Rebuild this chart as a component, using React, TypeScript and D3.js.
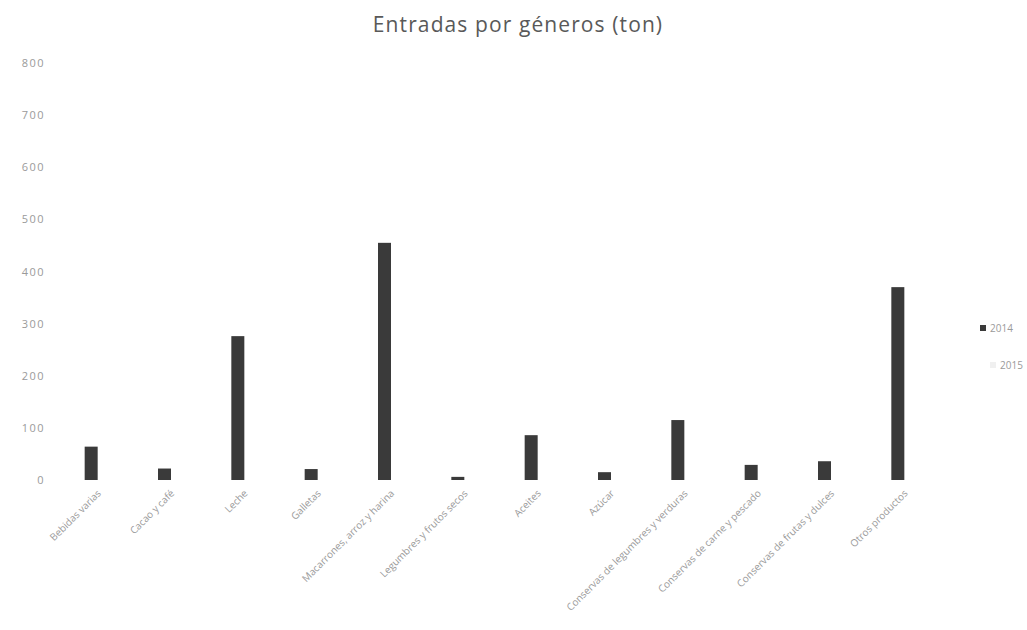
import React from "react";
import * as d3 from "d3";

const categories = [
  "Bebidas varias",
  "Cacao y café",
  "Leche",
  "Galletas",
  "Macarrones, arroz y harina",
  "Legumbres y frutos secos",
  "Aceites",
  "Azúcar",
  "Conservas de legumbres y verduras",
  "Conservas de carne y pescado",
  "Conservas de frutas y dulces",
  "Otros productos",
];
const series1Name = "2014";
const series2Name = "2015";
const series1 = [64, 22, 276, 21, 455, 6, 86, 15, 115, 29, 36, 370];
const series2: (number | null)[] = [null, null, null, null, null, null, null, null, null, null, null, null];
const yTicks = [0, 100, 200, 300, 400, 500, 600, 700, 800];
const title = "Entradas por géneros (ton)";

const W = 1027;
const H = 630;
const FONT = "'Open Sans', 'Liberation Sans', sans-serif";

export default function App() {
  const x = d3.scaleBand<string>().domain(categories).range([61, 941]).padding(0);
  const inner = d3.scaleBand<string>().domain(["s1", "s2"]).range([0, 26]);
  const y = d3.scaleLinear().domain([0, 800]).range([480, 63]);
  const off = (x.bandwidth() - 26) / 2;

  return (
    <svg width={W} height={H} style={{ position: "absolute", left: 0, top: 0 }} fontFamily={FONT}>
      <rect x={0} y={0} width={W} height={H} fill="#fff" />
      <text x={518} y={32} textAnchor="middle" fontSize={21} letterSpacing={1.1} fill="#595959">{title}</text>
      {yTicks.map((t) => (
        <text key={t} x={45} y={y(t) + 4} textAnchor="end" fontSize={11} letterSpacing={1.5} fill="#9a9a9a">{t}</text>
      ))}
      {categories.map((c, i) => (
        <rect key={"a" + c} x={(x(c) as number) + off + (inner("s1") as number)} y={y(series1[i])}
          width={inner.bandwidth()} height={480 - y(series1[i])} fill="#3a3a3a" />
      ))}
      {categories.map((c, i) => series2[i] == null ? null : (
        <rect key={"b" + c} x={(x(c) as number) + off + (inner("s2") as number)} y={y(series2[i] as number)}
          width={inner.bandwidth()} height={480 - y(series2[i] as number)} fill="#d9d9d9" />
      ))}
      {categories.map((c) => {
        const cx = (x(c) as number) + x.bandwidth() / 2 + 4;
        return (
          <text key={"l" + c} transform={`translate(${cx},${494}) rotate(-45)`} textAnchor="end"
            fontSize={10} fill="#9a9a9a">{c}</text>
        );
      })}
      <rect x={980} y={325} width={6} height={6} fill="#3a3a3a" />
      <text x={990} y={332} fontSize={10} fill="#9a9a9a">{series1Name}</text>
      <rect x={990} y={362} width={6} height={6} fill="#f0f0f0" />
      <text x={1000} y={369} fontSize={10} fill="#9a9a9a">{series2Name}</text>
    </svg>
  );
}
